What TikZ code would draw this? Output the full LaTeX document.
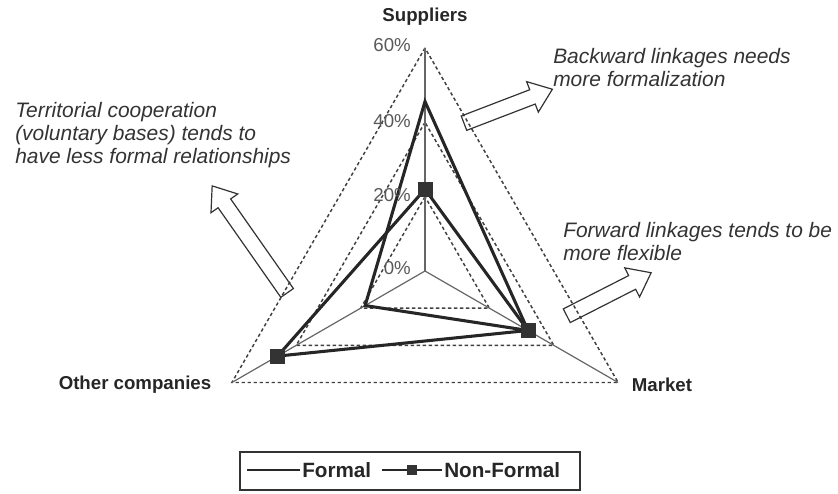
\documentclass[tikz,border=0pt]{standalone}
\usepackage{fontspec}
\setmainfont{Liberation Sans}
\usetikzlibrary{shapes.arrows,calc}
\begin{document}
\begin{tikzpicture}[x=0.75pt,y=-0.75pt,
  spoke/.style={draw=black!60, line width=0.9pt},
  gridline/.style={draw=black!75, line width=1.1pt, dash pattern=on 2.5pt off 2pt},
  series/.style={draw=black!85, line width=2.3pt, line join=miter},
  mk/.style={rectangle, fill=black!80, draw=black!80, minimum size=10.5pt, inner sep=0pt},
  axlabel/.style={font=\bfseries\fontsize{14}{16}\selectfont, text=black!85, inner sep=0pt},
  pct/.style={font=\fontsize{14}{16}\selectfont, text=black!65, anchor=east, inner sep=0pt},
  note/.style={font=\itshape\fontsize{15.7}{17.25}\selectfont, text=black!80, align=left, anchor=west, inner sep=0pt},
  legtext/.style={font=\bfseries\fontsize{15.5}{17}\selectfont, text=black!85, anchor=west, inner sep=0pt},
  blockarrow/.style={single arrow, draw=black!80, line width=0.9pt, inner sep=0pt, inner ysep=5.3pt,
    single arrow head extend=6.5pt, single arrow tip angle=75, minimum height=#1}
]
\useasboundingbox (0,0) rectangle (838,493);

\coordinate (C) at (425,271);
% grid triangles
\foreach \r in {74.3,148.7,223}{
  \draw[gridline] ($(C)+(-90:\r)$) -- ($(C)+(150:\r)$) -- ($(C)+(30:\r)$) -- cycle;
}
% spokes
\coordinate (Stop) at ($(C)+(-90:223)$);
\coordinate (Oend) at ($(C)+(150:223)$);
\coordinate (Mend) at ($(C)+(30:223)$);
\draw[spoke] (C) -- (Stop);
\draw[spoke] (C) -- (Oend);
\draw[spoke] (C) -- (Mend);

% Formal series
\coordinate (FS) at ($(C)+(-90:169.5)$);
\coordinate (FO) at ($(C)+(150:69.1)$);
\coordinate (FM) at ($(C)+(30:118.9)$);
\draw[series] (FS) -- (FO) -- (FM) -- cycle;

% Non-Formal series
\coordinate (NS) at ($(C)+(-90:81.8)$);
\coordinate (NO) at ($(C)+(150:170.2)$);
\coordinate (NM) at ($(C)+(30:118.9)$);
\draw[series] (NS) -- (NO) -- (NM) -- cycle;
\node[mk] (mNS) at (NS) {};
\node[mk] (mNO) at (NO) {};
\node[mk] (mNM) at (NM) {};

% percentage labels
\node[pct] (p60) at (411,45) {60\%};
\node[pct] (p40) at (411,121) {40\%};
\node[pct] (p20) at (411,195) {20\%};
\node[pct] (p0) at (411,268) {0\%};

% axis labels
\node[axlabel] (sup) at (425,17) {Suppliers};
\node[axlabel] (oth) at (135,385) {Other companies};
\node[axlabel] (mkt) at (662,385) {Market};

% notes
\node[note] (n1) at (15,135) {Territorial cooperation\\(voluntary bases) tends to\\have less formal relationships};
\node[note] (n2) at (553,67.5) {Backward linkages needs\\more formalization};
\node[note] (n3) at (563,241.5) {Forward linkages tends to be\\more flexible};

% block arrows
\node[blockarrow=98pt, rotate=125] (a1) at (252.5,243.5) {};
\node[blockarrow=71pt, rotate=21] (a2) at (503.5,108) {};
\node[blockarrow=71pt, rotate=27] (a3) at (604.5,296.5) {};

% legend
\node[draw=black!80, line width=0.9pt, minimum width=255pt, minimum height=28.5pt, inner sep=0pt] (legend) at (410,471) {};
\coordinate (l1a) at (247,470);
\coordinate (l1b) at (300,470);
\draw[draw=black!85, line width=2pt] (l1a) -- (l1b);
\node[legtext] (lf) at (302,470) {Formal};
\coordinate (l2a) at (382,470);
\coordinate (l2b) at (442,470);
\draw[draw=black!85, line width=2pt] (l2a) -- (l2b);
\node[rectangle, fill=black!80, minimum size=7pt, inner sep=0pt] (lm) at (412,470) {};
\node[legtext] (lnf) at (444,470) {Non-Formal};
\end{tikzpicture}
\end{document}
